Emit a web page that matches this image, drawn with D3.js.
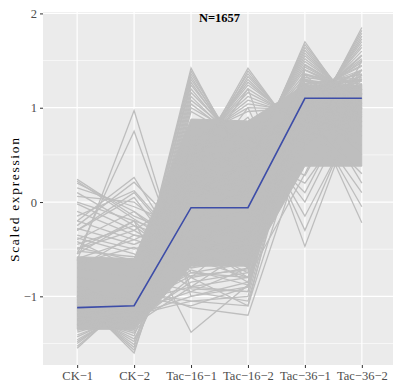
<!DOCTYPE html>
<html>
<head>
<meta charset="utf-8">
<script src="https://cdn.jsdelivr.net/npm/d3@7"></script>
<style>
  body { margin: 0; background: #fff; }
  svg { display: block; }
</style>
</head>
<body>
<div id="chart"></div>
<script>
// samples on the x axis
const categories = ['CK−1', 'CK−2', 'Tac−16−1', 'Tac−16−2', 'Tac−36−1', 'Tac−36−2'];
const yTicks = [-1, 0, 1, 2];
const yMinor = [-1.5, -0.5, 0.5, 1.5];
const title = 'N=1657';

// blue cluster mean
const meanExpr = [-1.12, -1.10, -0.06, -0.06, 1.10, 1.10];

// dense middle of the cluster (too many lines to tell apart)
const coreLower = [-1.35, -1.35, -0.68, -0.68, 0.38, 0.38];
const coreUpper = [-0.58, -0.60, 0.88, 0.86, 1.24, 1.24];

// single genes that stand out of the dense middle
const geneRows = [
  // peaks at Tac-16-1
  [-1.05, -1.00, 1.42, 0.30, 0.90, 0.95],
  [-1.20, -1.02, 1.39, 0.35, 0.80, 1.05],
  [-0.95, -1.05, 1.36, 0.40, 1.00, 0.85],
  [-1.30, -0.98, 1.33, 0.38, 0.75, 1.10],
  [-1.10, -1.08, 1.30, 0.45, 0.95, 0.80],
  [-1.15, -1.10, 1.27, 0.42, 0.85, 1.00],
  [-1.25, -1.04, 1.24, 0.50, 0.70, 1.15],
  [-1.00, -1.12, 1.20, 0.48, 1.05, 0.90],
  [-1.20, -1.15, 1.16, 0.55, 0.80, 1.10],
  [-1.10, -1.18, 1.12, 0.52, 0.95, 1.00],
  [-1.30, -1.20, 1.08, 0.60, 0.90, 0.85],
  [-1.05, -1.22, 1.04, 0.58, 1.10, 0.95],
  [-1.15, -1.25, 1.00, 0.65, 0.85, 1.05],
  [-1.25, -1.28, 0.96, 0.62, 1.00, 1.10],
  // peaks at Tac-16-2
  [-1.00, -1.05, 0.35, 1.42, 0.60, 1.05],
  [-1.15, -0.95, 0.30, 1.39, 0.62, 1.20],
  [-0.90, -1.10, 0.42, 1.36, 0.66, 1.00],
  [-1.25, -1.00, 0.38, 1.33, 0.70, 0.95],
  [-1.05, -1.20, 0.45, 1.30, 0.72, 1.10],
  [-1.10, -1.15, 0.48, 1.27, 0.76, 1.25],
  [-1.20, -1.05, 0.50, 1.24, 0.80, 0.90],
  [-0.95, -1.25, 0.52, 1.20, 0.82, 1.15],
  [-1.30, -1.10, 0.55, 1.16, 0.85, 1.05],
  [-1.15, -1.20, 0.58, 1.12, 0.88, 1.20],
  [-1.05, -1.30, 0.60, 1.08, 0.90, 0.95],
  [-1.20, -1.25, 0.62, 1.04, 0.95, 1.10],
  [-1.10, -1.00, 0.65, 1.00, 0.98, 1.00],
  [-1.25, -1.15, 0.68, 0.96, 1.00, 1.20],
  // peaks at Tac-36-1
  [-1.20, -1.10, 0.30, 0.30, 1.70, 0.85],
  [-1.10, -1.25, 0.20, 0.35, 1.67, 0.90],
  [-1.00, -1.15, 0.40, 0.38, 1.64, 0.92],
  [-1.30, -1.05, 0.10, 0.40, 1.61, 0.95],
  [-1.15, -1.00, 0.25, 0.45, 1.58, 0.98],
  [-1.20, -1.30, -0.10, 0.48, 1.55, 1.02],
  [-1.10, -1.10, 0.00, 0.50, 1.52, 1.05],
  [-1.25, -1.20, 0.35, 0.52, 1.49, 1.08],
  [-1.05, -1.15, 0.15, 0.55, 1.46, 1.10],
  [-1.30, -1.25, 0.45, 0.58, 1.43, 1.12],
  [-1.00, -1.05, 0.05, 0.60, 1.40, 1.15],
  [-1.15, -1.20, 0.30, 0.62, 1.36, 1.20],
  [-1.20, -1.00, 0.20, 0.65, 1.32, 1.25],
  [-1.10, -1.30, 0.50, 0.70, 1.28, 1.28],
  // peaks at Tac-36-2
  [-1.10, -1.15, 0.20, 0.10, 0.70, 1.85],
  [-1.20, -1.05, 0.05, 0.25, 0.74, 1.82],
  [-1.30, -1.20, 0.00, 0.00, 0.78, 1.79],
  [-0.95, -1.10, -0.10, 0.10, 0.80, 1.76],
  [-1.05, -1.20, 0.30, 0.15, 0.84, 1.73],
  [-1.25, -1.10, 0.15, 0.30, 0.88, 1.70],
  [-1.15, -1.00, 0.35, 0.20, 0.90, 1.67],
  [-1.00, -1.25, 0.10, 0.05, 0.94, 1.64],
  [-1.20, -1.15, 0.25, 0.35, 0.98, 1.60],
  [-1.10, -1.30, 0.40, 0.20, 1.02, 1.56],
  [-1.25, -1.05, -0.05, 0.30, 1.06, 1.52],
  [-1.05, -1.10, 0.20, 0.40, 1.10, 1.48],
  [-1.30, -1.20, 0.30, 0.10, 1.14, 1.44],
  [-1.15, -1.25, 0.10, 0.25, 1.18, 1.40],
  [-1.00, -1.05, -0.20, -0.10, 1.22, 1.36],
  [-1.20, -1.00, 0.45, 0.35, 1.26, 1.32],
  // high in CK
  [0.24, -0.15, -0.40, -0.50, 0.80, 0.70],
  [0.22, -0.18, -0.55, -0.35, 0.95, 0.75],
  [0.20, -0.10, -0.60, -0.30, 0.90, 0.60],
  [0.15, -0.05, -0.30, -0.70, 0.60, 1.00],
  [0.10, -0.25, -0.45, -0.60, 1.05, 0.85],
  [0.06, 0.00, -0.50, -0.40, 1.10, 0.50],
  [-0.02, -0.30, -0.65, -0.55, 0.75, 1.15],
  [-0.20, 0.26, -0.70, -0.60, 0.70, 0.90],
  [-0.25, 0.21, -0.40, -0.80, 1.00, 0.80],
  [-0.15, 0.12, -0.55, -0.45, 0.85, 1.05],
  [-0.30, 0.05, -0.75, -0.65, 1.10, 0.95],
  [-0.62, 0.97, -1.00, -0.90, 1.10, 1.20],
  [-0.55, 0.75, -0.92, -0.95, 1.25, 1.05],
  [0.00, -0.20, -0.80, -0.30, 0.60, 1.30],
  [-0.30, 0.10, -0.60, -0.50, 0.90, 1.00],
  [-0.20, -0.40, -0.10, -0.70, 1.20, 0.70],
  [-0.40, -0.10, -0.50, -0.20, 0.80, 1.10],
  [-0.35, -0.50, -0.30, -0.60, 1.30, 0.80],
  [-0.45, -0.25, -0.70, -0.40, 1.00, 1.20],
  [-0.50, -0.30, 0.10, -0.60, 0.90, 0.70],
  [-0.28, -0.45, -0.20, 0.00, 0.70, 0.80],
  [-0.55, -0.20, -0.40, -0.30, 1.10, 0.90],
  [-0.60, -0.40, -0.60, -0.80, 0.90, 1.40],
  [-0.38, -0.55, -0.90, -0.50, 1.20, 1.00],
  [-0.10, -0.35, -0.45, -0.75, 1.15, 0.95],
  [-0.48, -0.62, -0.35, -0.55, 1.00, 1.10],
  [-0.65, -0.48, -0.80, -0.70, 1.30, 1.15],
  [-0.42, -0.70, -0.60, -0.45, 0.95, 1.25],
  [-0.70, -0.35, -0.50, -0.85, 1.15, 1.05],
  [-0.52, -0.58, -0.25, -0.40, 0.85, 1.20],
  // low in CK-1
  [-1.55, -1.00, -0.20, 0.00, 1.30, 1.20],
  [-1.53, -1.03, 0.00, -0.30, 1.00, 1.55],
  [-1.50, -1.06, 0.20, 0.10, 1.35, 0.80],
  [-1.48, -1.09, -0.40, 0.30, 1.10, 1.30],
  [-1.46, -1.12, 0.40, -0.20, 1.00, 1.20],
  [-1.43, -1.15, -0.30, -0.10, 1.40, 1.10],
  [-1.41, -1.18, 0.10, 0.20, 0.90, 1.35],
  [-1.38, -1.21, -0.50, -0.40, 1.25, 1.30],
  [-1.36, -1.24, 0.25, -0.15, 1.05, 1.25],
  [-1.34, -1.27, -0.20, 0.15, 1.20, 1.00],
  // low in CK-2
  [-1.00, -1.60, 0.30, 0.20, 1.00, 1.10],
  [-1.03, -1.57, 0.10, 0.40, 1.20, 0.90],
  [-1.06, -1.54, 0.50, -0.10, 1.10, 1.20],
  [-1.09, -1.51, -0.20, 0.20, 1.30, 1.00],
  [-1.12, -1.48, 0.00, 0.35, 0.90, 1.25],
  [-1.15, -1.45, -0.40, -0.20, 1.35, 1.15],
  [-1.18, -1.42, 0.20, 0.00, 1.05, 1.40],
  [-1.21, -1.39, -0.55, -0.45, 1.20, 1.30],
  [-1.24, -1.37, -0.10, 0.10, 1.15, 1.20],
  [-1.27, -1.35, 0.35, 0.25, 0.95, 1.30],
  // low in Tac-16
  [-1.20, -1.10, -0.75, -0.80, 1.25, 1.30],
  [-1.10, -1.25, -0.85, -0.75, 1.10, 1.40],
  [-1.25, -1.05, -0.90, -0.95, 1.35, 1.20],
  [-1.05, -1.20, -1.00, -0.85, 1.40, 1.15],
  [-1.15, -1.15, -0.95, -1.05, 1.05, 1.50],
  [-1.30, -1.00, -1.10, -0.90, 1.45, 1.10],
  [-1.00, -1.30, -0.80, -1.10, 1.25, 1.35],
  [-1.20, -1.20, -1.05, -1.00, 1.15, 1.45],
  [-0.50, -0.20, -1.38, -0.88, 1.10, 1.20],
  [-0.80, -0.90, -1.12, -1.20, 0.60, 1.40],
  [-1.10, -0.95, -1.05, -1.10, 0.80, 1.25],
  [-0.70, -0.80, -0.95, -0.70, 1.00, 1.30],
  [-1.25, -1.15, -0.72, -0.88, 0.95, 1.35],
  [-1.05, -1.10, -0.78, -0.72, 1.30, 1.10],
  // low in Tac-36-1
  [-1.00, -1.10, 0.30, 1.20, -0.47, 1.15],
  [-1.10, -1.00, 0.20, 1.00, -0.30, 1.10],
  [-0.90, -1.20, 0.40, 0.90, -0.15, 1.00],
  [-1.20, -0.90, 0.50, 0.80, 0.00, 1.20],
  [-1.10, -1.20, 0.60, 0.70, 0.10, 1.25],
  [-1.00, -1.00, 0.70, 0.50, 0.20, 1.05],
  [-1.20, -1.10, 0.80, 0.60, 0.28, 1.35],
  [-1.20, -1.30, -0.90, -0.80, 0.30, 1.50],
  // low in Tac-36-2
  [-1.10, -1.00, 0.40, 0.50, 1.10, -0.22],
  [-1.00, -1.10, 0.60, 0.30, 1.00, -0.05],
  [-1.20, -1.10, 0.30, 0.60, 0.95, 0.10],
  [-0.90, -1.00, 0.50, 0.40, 1.20, 0.20],
  [-1.05, -1.15, 0.55, 0.45, 0.90, 0.30]
];

const width = 393;
const height = 385;
const margin = { top: 12, right: -3, bottom: 20, left: 43 };
const innerW = width - margin.left - margin.right;
const innerH = height - margin.top - margin.bottom;

const svg = d3.select('#chart')
  .append('svg')
  .attr('width', width)
  .attr('height', height);

svg.append('defs').append('clipPath')
  .attr('id', 'panel-clip')
  .append('rect')
  .attr('width', innerW)
  .attr('height', innerH);

const g = svg.append('g')
  .attr('transform', 'translate(' + margin.left + ',' + margin.top + ')');

const x = d3.scalePoint()
  .domain(categories)
  .range([0, innerW])
  .padding(0.6);

const y = d3.scaleLinear()
  .domain([-1.728, 2.015])
  .range([innerH, 0]);

// panel background + grid
g.append('rect')
  .attr('width', innerW)
  .attr('height', innerH)
  .attr('fill', '#EBEBEB');

g.selectAll('.minor')
  .data(yMinor)
  .enter()
  .append('line')
  .attr('x1', 0)
  .attr('x2', innerW)
  .attr('y1', d => y(d))
  .attr('y2', d => y(d))
  .attr('stroke', '#fff')
  .attr('stroke-width', 0.6);

g.selectAll('.major-y')
  .data(yTicks)
  .enter()
  .append('line')
  .attr('x1', 0)
  .attr('x2', innerW)
  .attr('y1', d => y(d))
  .attr('y2', d => y(d))
  .attr('stroke', '#fff')
  .attr('stroke-width', 1.2);

g.selectAll('.major-x')
  .data(categories)
  .enter()
  .append('line')
  .attr('x1', d => x(d))
  .attr('x2', d => x(d))
  .attr('y1', 0)
  .attr('y2', innerH)
  .attr('stroke', '#fff')
  .attr('stroke-width', 1.2);

const plot = g.append('g').attr('clip-path', 'url(#panel-clip)');

// dense core
const area = d3.area()
  .x((d, i) => x(categories[i]))
  .y0((d, i) => y(coreLower[i]))
  .y1(d => y(d));

plot.append('path')
  .datum(coreUpper)
  .attr('d', area)
  .attr('fill', '#BEBEBE')
  .attr('stroke', '#BEBEBE')
  .attr('stroke-width', 1);

const line = d3.line()
  .x((d, i) => x(categories[i]))
  .y(d => y(d));

// gene lines
plot.selectAll('.gene')
  .data(geneRows)
  .enter()
  .append('path')
  .attr('d', line)
  .attr('fill', 'none')
  .attr('stroke', '#BEBEBE')
  .attr('stroke-width', 1.3);

// mean line
plot.append('path')
  .datum(meanExpr)
  .attr('d', line)
  .attr('fill', 'none')
  .attr('stroke', '#3D4DA8')
  .attr('stroke-width', 1.6);

// title inside panel
g.append('text')
  .attr('x', innerW / 2)
  .attr('y', 10)
  .attr('text-anchor', 'middle')
  .style('font-family', '"Liberation Serif", "DejaVu Serif", serif')
  .style('font-weight', 'bold')
  .style('font-size', '12.5px')
  .attr('fill', '#000')
  .text(title);

// axes
const yAxis = g.append('g')
  .call(d3.axisLeft(y).tickValues(yTicks).tickSize(3).tickPadding(3).tickFormat(d => d < 0 ? '−' + Math.abs(d) : d));
yAxis.select('.domain').remove();

const xAxis = g.append('g')
  .attr('transform', 'translate(0,' + innerH + ')')
  .call(d3.axisBottom(x).tickSize(3).tickPadding(3));
xAxis.select('.domain').remove();

[yAxis, xAxis].forEach(ax => {
  ax.selectAll('line').attr('stroke', '#333');
  ax.selectAll('text')
    .attr('fill', '#4D4D4D')
    .style('font-family', '"Liberation Serif", "DejaVu Serif", serif')
    .style('font-size', '12.5px');
});

// y title, spaced out to the reference length
svg.append('text')
  .attr('transform', 'translate(19,200) rotate(-90)')
  .attr('text-anchor', 'middle')
  .attr('textLength', 124)
  .attr('lengthAdjust', 'spacing')
  .style('font-family', '"Liberation Serif", "DejaVu Serif", serif')
  .style('font-size', '13.5px')
  .attr('fill', '#000')
  .text('Scaled expression');
</script>
</body>
</html>
